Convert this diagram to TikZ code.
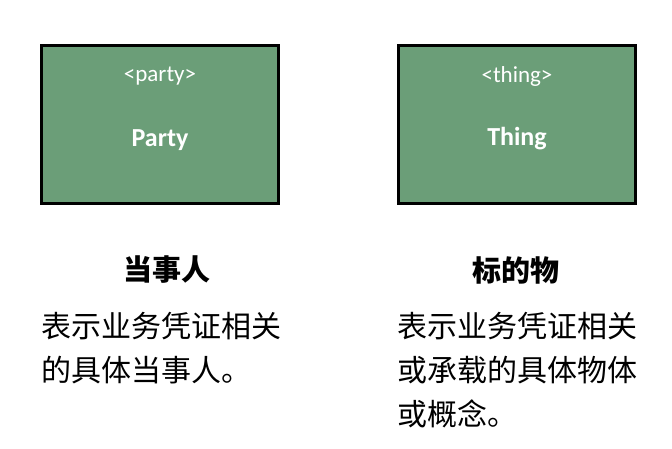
\documentclass[tikz,border=0pt]{standalone}
\usepackage{fontspec}
\setmainfont{Carlito}
\newfontfamily\cjk{Noto Sans CJK SC}
\definecolor{boxgreen}{HTML}{6B9E78}
\begin{document}
\begin{tikzpicture}[x=1pt,y=-1pt,
  entity/.style={draw=black,line width=3pt,fill=boxgreen,minimum width=237pt,minimum height=158pt,inner sep=0pt},
  tag/.style={text=white,font=\fontsize{23}{26}\selectfont},
  ename/.style={text=white,font=\fontsize{26}{30}\selectfont\bfseries},
  head/.style={font=\cjk\fontsize{29}{34}\selectfont\bfseries},
  desc/.style={font=\cjk\fontsize{30}{44}\selectfont,align=left,anchor=north west,inner sep=0pt}]
\useasboundingbox (0,0) rectangle (672,448);
\node[entity] (pbox) at (160,124) {};
\node[entity] (tbox) at (517,124) {};
\node[tag] (ptag) at (160,76) {<party>};
\node[ename] (pname) at (160,140) {Party};
\node[tag] (ttag) at (517,76) {<thing>};
\node[ename] (tname) at (517,139) {Thing};
\node[head] (phead) at (167,270) {当事人};
\node[head] (thead) at (516,270) {标的物};
\node[desc] (pdesc) at (41,312) {表示业务凭证相关\\的具体当事人。};
\node[desc] (tdesc) at (397,312) {表示业务凭证相关\\或承载的具体物体\\或概念。};
\end{tikzpicture}
\end{document}
